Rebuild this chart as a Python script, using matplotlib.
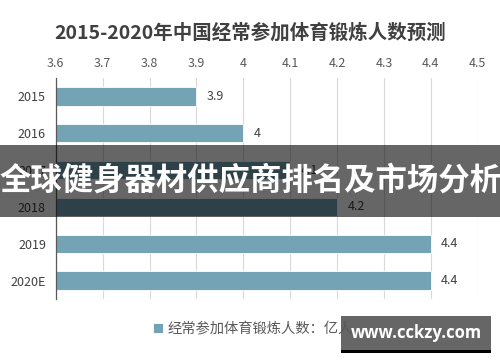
import matplotlib
matplotlib.use("Agg")
import matplotlib.pyplot as plt
import matplotlib.patches as patches

plt.rcParams['font.family'] = ['Noto Sans CJK SC', 'DejaVu Sans']

years = ['2015', '2016', '2017', '2018', '2019', '2020E']
people = [3.9, 4.0, 4.1, 4.2, 4.4, 4.4]
x_ticks = [3.6, 3.7, 3.8, 3.9, 4.0, 4.1, 4.2, 4.3, 4.4, 4.5]
x_tick_labels = ['3.6', '3.7', '3.8', '3.9', '4', '4.1', '4.2', '4.3', '4.4', '4.5']

title = '2015-2020年中国经常参加体育锻炼人数预测'
series_name = '经常参加体育锻炼人数：亿人'
banner_text = '全球健身器材供应商排名及市场分析'
watermark = 'www.cckzy.com'

bar_color = '#75a3b6'
text_color = '#404040'

fig = plt.figure(figsize=(5, 3.62), dpi=100)
ax = fig.add_axes([0.1114, 0.174, 0.8442, 0.6105])

bars = ax.barh(years, people, height=0.5, color=bar_color,
               edgecolor='white', linewidth=0.6, zorder=2, label=series_name)
for y, v in zip(years, people):
    ax.text(v + 0.022, y, f'{v:g}', ha='left', va='center',
            fontsize=9, color=text_color, zorder=3)

ax.set_xlim(3.6, 4.5)
ax.set_ylim(-0.5, len(years) - 0.5)
ax.invert_yaxis()
ax.set_xticks(x_ticks)
ax.set_xticklabels(x_tick_labels)
ax.xaxis.tick_top()
ax.tick_params(axis='x', length=0, pad=6, labelsize=9, labelcolor='#595959')
ax.tick_params(axis='y', length=0, pad=7, labelsize=9, labelcolor=text_color)
ax.grid(axis='x', color='#d9d9d9', linewidth=0.8, zorder=0)
ax.set_axisbelow(True)
for side in ['top', 'right', 'bottom']:
    ax.spines[side].set_visible(False)
ax.spines['left'].set_color('#595959')
ax.spines['left'].set_linewidth(0.9)

fig.text(0.5, 0.909, title, ha='center', va='center',
         fontsize=14, fontweight='bold', color=text_color)

fig.legend(handles=[bars], labels=[series_name], loc='center',
           bbox_to_anchor=(0.505, 0.091), frameon=False, fontsize=10.3,
           handlelength=0.7, handleheight=0.7, handletextpad=0.3,
           labelcolor='#595959')

# dark banner overlay
fig.add_artist(patches.Rectangle((0, 0.4006), 1, 0.1989, transform=fig.transFigure,
                                 facecolor='black', alpha=0.6, edgecolor='none', zorder=5))
fig.text(0.5, 0.5, banner_text, ha='center', va='center', fontsize=22.6,
         fontweight='bold', color='white', zorder=6)

# watermark box
fig.add_artist(patches.Rectangle((0.682, 0.0331), 0.30, 0.0939, transform=fig.transFigure,
                                 facecolor='#666666', edgecolor='none', zorder=5))
fig.add_artist(patches.Rectangle((0.682, 0.0249), 0.30, 0.0083, transform=fig.transFigure,
                                 facecolor='black', edgecolor='none', zorder=5))
fig.text(0.832, 0.080, watermark, ha='center', va='center', fontsize=12,
         fontweight='bold', color='white', family=['Open Sans', 'DejaVu Sans'], zorder=6)

fig.savefig('out.png', dpi=100, facecolor='white')
